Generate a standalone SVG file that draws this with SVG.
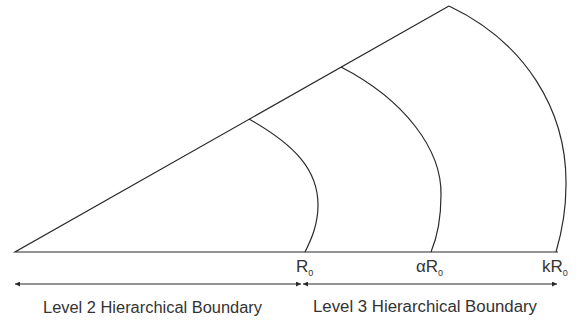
<svg xmlns="http://www.w3.org/2000/svg" width="580" height="320" viewBox="0 0 580 320">
<style>
.ln{fill:none;stroke:#2a2a2a;stroke-width:1.2}
.lb{font-family:"Liberation Sans",Arial,sans-serif;fill:#333}
.big{font-size:17px}
.sub{font-size:9px}
.cap{font-size:16px}
</style>
<defs>
<marker id="ah" viewBox="0 0 10 10" refX="10" refY="5" markerWidth="6" markerHeight="5" markerUnits="userSpaceOnUse" orient="auto-start-reverse">
<path d="M0,0 L10,5 L0,10 Z" fill="#2a2a2a"/>
</marker>
</defs>
<rect width="580" height="320" fill="#fff"/>
<g id="sector">
<path class="ln" d="M449,6 L15,252 L558,252"/>
</g>
<g id="arc-R0">
<path class="ln" d="M249,119 C295,145 318,170 318,205 C318,225 311,240 305,252"/>
</g>
<g id="arc-aR0">
<path class="ln" d="M341,67 C405,100 442,150 441,195 C441,220 436,240 431,252"/>
</g>
<g id="arc-kR0">
<path class="ln" d="M449,6 C525,42 567,110 566,185 C566,215 561,235 556,252"/>
</g>
<g id="labels">
<text class="lb big" x="296" y="272">R<tspan class="sub" dy="4">0</tspan></text>
<text class="lb big" x="416" y="272">αR<tspan class="sub" dy="4">0</tspan></text>
<text class="lb big" x="542" y="272">kR<tspan class="sub" dy="4">0</tspan></text>
</g>
<g id="connectors">
<line class="ln" x1="15" y1="284" x2="301" y2="284" marker-start="url(#ah)" marker-end="url(#ah)"/>
<line class="ln" x1="303" y1="284" x2="557" y2="284" marker-start="url(#ah)" marker-end="url(#ah)"/>
</g>
<g id="captions">
<text class="lb cap" x="43" y="313" textLength="219" lengthAdjust="spacingAndGlyphs">Level 2 Hierarchical Boundary</text>
<text class="lb cap" x="313" y="312" textLength="224" lengthAdjust="spacingAndGlyphs">Level 3 Hierarchical Boundary</text>
</g>
</svg>
